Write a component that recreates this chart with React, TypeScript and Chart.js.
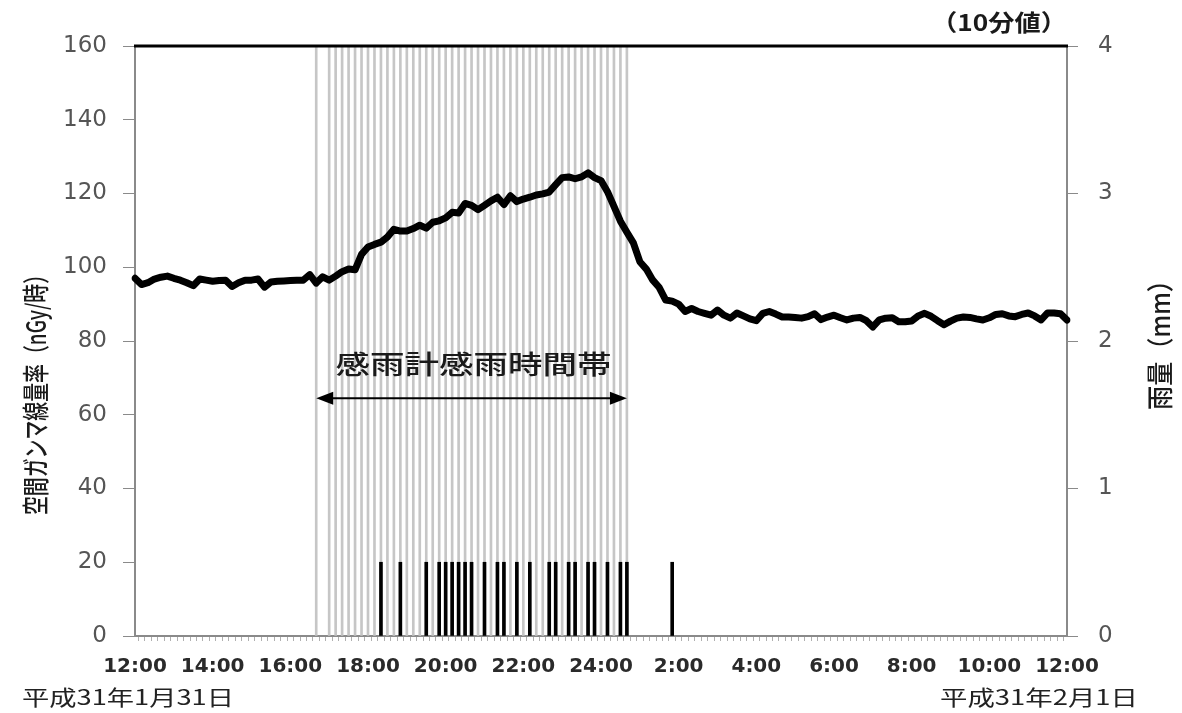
import React, { useEffect, useRef } from "react";
import { Chart, registerables } from "chart.js";

Chart.register(...registerables);

// 10-minute values, 12:00 (1/31) to 12:00 (2/1)
const doseRate: number[] = [
  97, 95.3, 95.8, 96.8, 97.3, 97.6, 97.0, 96.5, 95.8, 95.0,
  96.8, 96.5, 96.2, 96.4, 96.5, 94.8, 95.8, 96.5, 96.5, 96.8,
  94.6, 96.0, 96.2, 96.3, 96.4, 96.5, 96.5, 98.0, 95.7, 97.4,
  96.5, 97.6, 98.8, 99.5, 99.3, 103.5, 105.5, 106.2, 106.8, 108.2,
  110.3, 109.8, 109.8, 110.5, 111.4, 110.6, 112.2, 112.6, 113.4, 114.9,
  114.7, 117.3, 116.8, 115.6, 116.8, 118.0, 119.0, 117.0, 119.4, 117.8,
  118.5, 119.0, 119.6, 119.9, 120.4, 122.4, 124.3, 124.5, 124.0, 124.5,
  125.6, 124.3, 123.5, 120.5, 116.5, 112.5, 109.5, 106.6, 101.5, 99.5,
  96.5, 94.5, 91.1, 90.8, 90.0, 88.0, 88.8, 88.0, 87.5, 87.0,
  88.4, 87.0, 86.2, 87.6, 86.8, 86.0, 85.5, 87.5, 88.0, 87.3,
  86.5, 86.5, 86.4, 86.2, 86.6, 87.4, 85.8, 86.5, 87.0, 86.3,
  85.7, 86.2, 86.4, 85.5, 83.8, 85.7, 86.2, 86.3, 85.2, 85.2,
  85.4, 86.8, 87.5, 86.7, 85.5, 84.4, 85.4, 86.2, 86.5, 86.4,
  86.0, 85.7, 86.3, 87.2, 87.4, 86.8, 86.6, 87.2, 87.6, 86.8,
  85.7, 87.6, 87.6, 87.4, 85.7,
];

// indices (10-min steps from 12:00) where the rain sensor detected rain
const sensorIdx: number[] = [
  28, 30, 31, 32, 33, 34, 35, 36, 37, 38, 39, 40, 41, 42, 43, 44, 45, 46, 47, 48,
  49, 50, 51, 52, 53, 54, 55, 56, 57, 58, 59, 60, 61, 62, 63, 64, 65, 66, 67, 68,
  69, 70, 71, 72, 73, 74, 75, 76,
];
// indices of 10-min rainfall and amounts (mm)
const rainIdx: number[] = [38, 41, 45, 47, 48, 49, 50, 51, 52, 54, 56, 57, 59, 61, 64, 65, 67, 68, 70, 71, 73, 75, 76, 83];
const rainMm: number[] = [0.5, 0.5, 0.5, 0.5, 0.5, 0.5, 0.5, 0.5, 0.5, 0.5, 0.5, 0.5, 0.5, 0.5, 0.5, 0.5, 0.5, 0.5, 0.5, 0.5, 0.5, 0.5, 0.5, 0.5];
const sensorValue = 4;

const xTickLabels: string[] = ["12:00", "14:00", "16:00", "18:00", "20:00", "22:00", "24:00", "2:00", "4:00", "6:00", "8:00", "10:00", "12:00"];
const leftTicks: number[] = [0, 20, 40, 60, 80, 100, 120, 140, 160];
const rightTicks: number[] = [0, 1, 2, 3, 4];

const leftTitle = "空間ガンマ線量率（nGy/時）";
const rightTitle = "雨量（mm）";
const unitNote = "（10分値）";
const bandLabel = "感雨計感雨時間帯";
const dateStart = "平成31年1月31日";
const dateEnd = "平成31年2月1日";

const categories: string[] = doseRate.map((_, i) => {
  const m = 12 * 60 + i * 10;
  const h = Math.floor(m / 60) % 24;
  const mm = m % 60;
  return `${h}:${mm === 0 ? "00" : mm}`;
});

const JP = '"Noto Sans CJK JP", "Noto Sans", sans-serif';

function fitText(ctx: CanvasRenderingContext2D, text: string, cx: number, cy: number, font: string, len: number, rot = 0, color = "#222") {
  ctx.save();
  ctx.font = font;
  ctx.fillStyle = color;
  ctx.textAlign = "center";
  ctx.textBaseline = "middle";
  const w = ctx.measureText(text).width;
  ctx.translate(cx, cy);
  if (rot) ctx.rotate(rot);
  ctx.scale(len / w, 1);
  ctx.fillText(text, 0, 0);
  ctx.restore();
}

const overlay = {
  id: "overlay",
  afterDatasetsDraw(chart: any) {
    const { ctx, chartArea, scales } = chart;
    // top frame line
    ctx.save();
    ctx.strokeStyle = "#000";
    ctx.lineWidth = 3;
    ctx.beginPath();
    ctx.moveTo(chartArea.left - 1, chartArea.top);
    ctx.lineTo(chartArea.right + 1, chartArea.top);
    ctx.stroke();
    ctx.restore();

    // arrow spanning the rain-sensor band
    const x0 = scales.x.getPixelForValue(sensorIdx[0]);
    const x1 = scales.x.getPixelForValue(sensorIdx[sensorIdx.length - 1]);
    const ay = scales.y.getPixelForValue(64.5);
    ctx.save();
    ctx.strokeStyle = "#000";
    ctx.fillStyle = "#000";
    ctx.lineWidth = 2;
    ctx.beginPath();
    ctx.moveTo(x0 + 10, ay);
    ctx.lineTo(x1 - 10, ay);
    ctx.stroke();
    ctx.beginPath();
    ctx.moveTo(x0, ay);
    ctx.lineTo(x0 + 17, ay - 6.5);
    ctx.lineTo(x0 + 17, ay + 6.5);
    ctx.closePath();
    ctx.fill();
    ctx.beginPath();
    ctx.moveTo(x1, ay);
    ctx.lineTo(x1 - 17, ay - 6.5);
    ctx.lineTo(x1 - 17, ay + 6.5);
    ctx.closePath();
    ctx.fill();
    ctx.restore();

    fitText(ctx, bandLabel, (x0 + x1) / 2 + 2, ay - 34, `500 26px ${JP}`, 276, 0, "#1a1a1a");
  },
  afterDraw(chart: any) {
    const { ctx } = chart;
    fitText(ctx, leftTitle, 36, 390, `500 27px ${JP}`, 250, -Math.PI / 2, "#1a1a1a");
    fitText(ctx, rightTitle, 1160, 339, `500 27px ${JP}`, 142, -Math.PI / 2, "#1a1a1a");
    fitText(ctx, unitNote, 999, 22, `bold 23px ${JP}`, 136, 0, "#1a1a1a");
    fitText(ctx, dateStart, 128, 697, `21px ${JP}`, 212, 0, "#222");
    fitText(ctx, dateEnd, 1039, 697, `21px ${JP}`, 198, 0, "#222");
  },
};

export default function App() {
  const ref = useRef<HTMLCanvasElement | null>(null);
  useEffect(() => {
    if (!ref.current) return;
    const sensorBars: (number | null)[] = doseRate.map(() => null);
    sensorIdx.forEach((i) => (sensorBars[i] = sensorValue));
    const rainBars: (number | null)[] = doseRate.map(() => null);
    rainIdx.forEach((i, k) => (rainBars[i] = rainMm[k]));

    const gray = "#8a8a8a";
    const chart = new Chart(ref.current, {
      type: "bar",
      data: {
        labels: categories,
        datasets: [
          {
            type: "line",
            data: doseRate,
            yAxisID: "y",
            borderColor: "#000",
            borderWidth: 7,
            pointRadius: 0,
            tension: 0,
            borderJoinStyle: "round",
            borderCapStyle: "round",
            order: 0,
          } as any,
          {
            type: "bar",
            data: rainBars,
            yAxisID: "y1",
            backgroundColor: "#000",
            barThickness: 3,
            grouped: false,
            order: 1,
          } as any,
          {
            type: "bar",
            data: sensorBars,
            yAxisID: "y1",
            backgroundColor: "#c6c6c6",
            barThickness: 2,
            grouped: false,
            order: 2,
          } as any,
        ],
      },
      options: {
        responsive: false,
        animation: false,
        devicePixelRatio: 1,
        layout: { padding: { top: 46, left: 0, right: 0, bottom: 0 } },
        plugins: { legend: { display: false }, tooltip: { enabled: false } },
        scales: {
          x: {
            offset: false,
            grid: { display: true, drawOnChartArea: false, drawTicks: true, tickLength: 5, color: "#b0b0b0", lineWidth: 1 },
            border: { display: true, color: gray, width: 2 },
            ticks: {
              autoSkip: false,
              maxRotation: 0,
              minRotation: 0,
              padding: 14,
              color: "#2a2a2a",
              font: { family: '"DejaVu Sans"', size: 20, weight: "bold" },
              callback: (_v: any, i: number) => (i % 12 === 0 ? xTickLabels[i / 12] : ""),
            },
            afterFit: (s: any) => {
              s.height = 77;
            },
          },
          y: {
            position: "left",
            min: 0,
            max: 160,
            grid: { drawOnChartArea: false, drawTicks: true, tickLength: 12, color: gray, lineWidth: 1 },
            border: { display: true, color: gray, width: 2 },
            afterBuildTicks: (s: any) => {
              s.ticks = leftTicks.map((v) => ({ value: v }));
            },
            ticks: {
              padding: 16,
              color: "#555",
              font: { family: '"DejaVu Sans"', size: 23 },
            },
            afterFit: (s: any) => {
              s.width = 135;
            },
          },
          y1: {
            position: "right",
            min: 0,
            max: 4,
            grid: { drawOnChartArea: false, drawTicks: true, tickLength: 11, color: gray, lineWidth: 1 },
            border: { display: true, color: gray, width: 2 },
            afterBuildTicks: (s: any) => {
              s.ticks = rightTicks.map((v) => ({ value: v }));
            },
            ticks: {
              padding: 20,
              color: "#555",
              font: { family: '"DejaVu Sans"', size: 23 },
            },
            afterFit: (s: any) => {
              s.width = 115;
            },
          },
        },
      },
      plugins: [overlay],
    });
    return () => chart.destroy();
  }, []);

  return (
    <div style={{ position: "fixed", left: 0, top: 0, width: 1182, height: 713, background: "#fff" }}>
      <canvas ref={ref} width={1182} height={713} style={{ display: "block" }} />
    </div>
  );
}
